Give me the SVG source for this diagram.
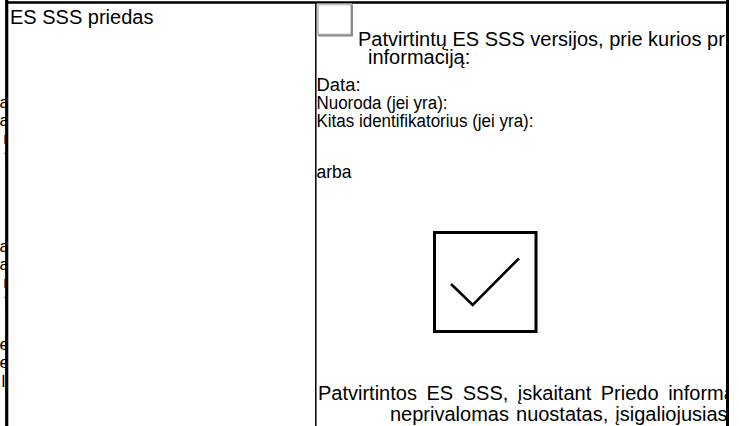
<svg xmlns="http://www.w3.org/2000/svg" width="739" height="426" viewBox="0 0 739 426">
<style>
.t{font-family:"Liberation Sans",Arial,sans-serif;font-size:20px;fill:#000}
.m{font-size:18px}
.s{font-size:17px}
.ln{stroke:#000;fill:none}
</style>
<defs>
<clipPath id="cr"><rect x="316" y="0" width="410" height="426"/></clipPath>
<clipPath id="cl"><rect x="0" y="0" width="6" height="426"/></clipPath>
</defs>
<rect width="739" height="426" fill="#fff"/>
<g id="left-fragments" clip-path="url(#cl)" class="t s">
<text x="9" y="108" text-anchor="end">a</text>
<text x="9" y="126" text-anchor="end">a</text>
<text x="9" y="144" text-anchor="end">r</text>
<text x="9" y="162" text-anchor="end">f</text>
<text x="9" y="252" text-anchor="end">a</text>
<text x="9" y="270" text-anchor="end">a</text>
<text x="9" y="288" text-anchor="end">r</text>
<text x="9" y="306" text-anchor="end">f</text>
<text x="9" y="350" text-anchor="end">e</text>
<text x="9" y="368" text-anchor="end">e</text>
<text x="9" y="387" text-anchor="end">ll</text>
</g>
<g id="table">
<line class="ln" x1="5" y1="2.5" x2="729" y2="2.5" stroke-width="2.5"/>
<line class="ln" x1="6.7" y1="0" x2="6.7" y2="426" stroke-width="3.2"/>
<line class="ln" x1="315.8" y1="2" x2="315.8" y2="426" stroke-width="1.5"/>
<line class="ln" x1="727.5" y1="0" x2="727.5" y2="426" stroke-width="3"/>
</g>
<g id="label-cell">
<text class="t" x="10" y="24">ES SSS priedas</text>
</g>
<g id="option-cell" clip-path="url(#cr)">
<g id="small-checkbox">
<rect x="318" y="4.5" width="33" height="30" fill="none" stroke="#c8c8c8" stroke-width="2"/>
<path d="M318 35.5 H352 V4.5" fill="none" stroke="#8a8a8a" stroke-width="2"/>
</g>
<text class="t" x="358" y="46">Patvirtintų ES SSS versijos, prie kurios pri</text>
<text class="t" x="368" y="63.5">informaciją:</text>
<text class="t m" x="316.5" y="90.5" textLength="44" lengthAdjust="spacingAndGlyphs">Data:</text>
<text class="t m" x="316.5" y="108.5" textLength="131" lengthAdjust="spacingAndGlyphs">Nuoroda (jei yra):</text>
<text class="t m" x="316.5" y="126.5" textLength="217" lengthAdjust="spacingAndGlyphs">Kitas identifikatorius (jei yra):</text>
<text class="t m" x="316.5" y="178" textLength="35" lengthAdjust="spacingAndGlyphs">arba</text>
<g id="big-checkbox">
<rect x="434.5" y="232.5" width="101.5" height="99" fill="none" stroke="#000" stroke-width="3"/>
<path d="M451 284 L472.7 305 L519 258.3" fill="none" stroke="#000" stroke-width="2.6"/>
</g>
<text class="t" x="318" y="400" word-spacing="4">Patvirtintos ES SSS, įskaitant Priedo informa</text>
<text class="t" x="390" y="421" word-spacing="1.5">neprivalomas nuostatas, įsigaliojusias</text>
</g>
</svg>
